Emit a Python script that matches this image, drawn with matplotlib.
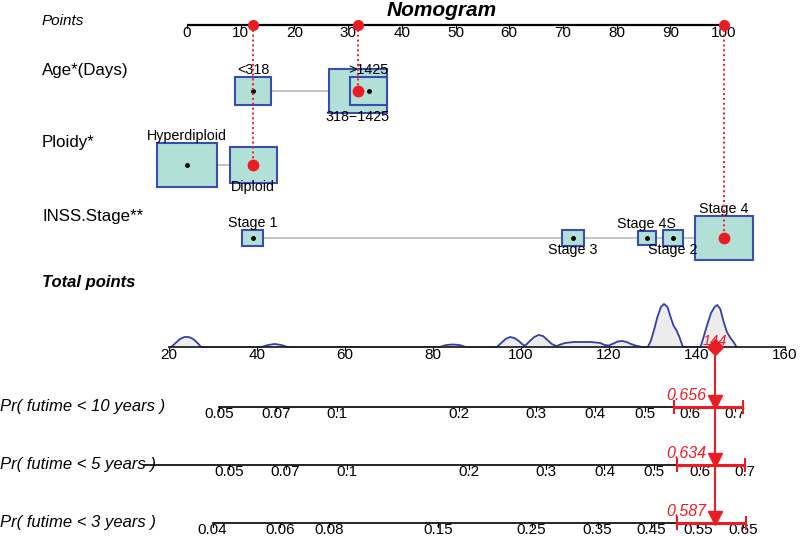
import numpy as np
import matplotlib
matplotlib.use('Agg')
import matplotlib.pyplot as plt
from matplotlib.patches import Rectangle

plt.rcParams['font.family'] = ['Liberation Sans', 'DejaVu Sans']

# ---- data ----
point_ticks = list(range(0, 101, 10))
total_ticks = list(range(20, 161, 20))

var_names = ['Age*(Days)', 'Ploidy*', 'INSS.Stage**']
age_levels = ['<318', '318\u22121425', '>1425']
age_points = [12.3, 31.8, 33.8]
age_share = [22, 55, 22.4]            # % of cohort (box size)
ploidy_levels = ['Hyperdiploid', 'Diploid']
ploidy_points = [0.0, 12.3]
ploidy_share = [57, 36]
stage_levels = ['Stage 1', 'Stage 3', 'Stage 4S', 'Stage 2', 'Stage 4']
stage_points = [12.2, 71.9, 85.6, 90.5, 100.0]
stage_share = [7.2, 7.9, 5.3, 6.5, 55]

# the patient shown in red: Age 318-1425, Diploid, Stage 4
patient_idx = [1, 1, 4]

# density of total points in the cohort (x = total points, h = height in px)
dens_x = [20.5, 21.5, 22.5, 23.5, 24.5, 25.5, 26.5, 27.3,
          41, 42.5, 44, 45.5, 47,
          81.5, 83, 84.5, 86, 87.5,
          94.5, 95.5, 96.5, 97.5, 98.5, 99.5, 100.5, 101, 102, 103, 104, 105, 106, 107, 108,
          109, 110, 112, 114, 116, 118, 119, 120, 121, 122, 123, 124, 125, 126, 127, 127.5,
          128.8, 129.5, 130.3, 131, 131.8, 132.5, 133.3, 134, 134.7, 135.3, 136, 136.8,
          140.8, 141.5, 142.3, 143.2, 144, 144.6, 145.3, 146, 146.8, 147.6, 148.3, 149]
dens_h = [0, 4, 8, 10, 10, 8, 4, 0,
          0, 2, 3, 2, 0,
          0, 2, 2.5, 2, 0,
          0, 4, 8, 10, 9, 6, 2, 1.5, 6, 10, 12, 11, 7, 3, 1,
          2.5, 4, 5, 5, 5, 4, 2, 1.5, 3.5, 5.5, 6, 5, 3, 1.5, 0.5, 0,
          0, 6, 18, 30, 40, 43, 40, 30, 21, 17, 10, 0,
          0, 10, 22, 34, 40, 42, 38, 26, 15, 9, 5, 0]

prob_labels = ['Pr( futime < 10 years )', 'Pr( futime < 5 years )', 'Pr( futime < 3 years )']
prob_ticks = [
    [0.05, 0.07, 0.1, 0.2, 0.3, 0.4, 0.5, 0.6, 0.7],
    [0.05, 0.07, 0.1, 0.2, 0.3, 0.4, 0.5, 0.6, 0.7],
    [0.04, 0.06, 0.08, 0.15, 0.25, 0.35, 0.45, 0.55, 0.65],
]
prob_line_start = [0.05, 0.03, 0.04]
patient_prob = [0.656, 0.634, 0.587]
prob_ci = [(0.564, 0.718), (0.549, 0.701), (0.504, 0.656)]
beta = 0.02693   # cloglog units per total point

# ---- colours ----
red = '#ec1c24'
box_face = '#b3e0d6'
box_edge = '#3a4cad'
dens_line = '#3040a6'

fig = plt.figure(figsize=(8, 5.36), dpi=100)

lay = fig.add_axes([0, 0, 1, 1])
lay.set_xlim(0, 800)
lay.set_ylim(536, 0)
lay.axis('off')

# points scale axes: 0 -> 187 px, 100 -> 724 px
px_pt = (724 - 187) / 100
ax = fig.add_axes([0, 0, 1, 1])
ax.set_xlim(-187 / px_pt, (800 - 187) / px_pt)
ax.set_ylim(536, 0)
ax.axis('off')
ax.patch.set_alpha(0)

# total points axes: 20 -> 169 px, 160 -> 785 px
px_tot = (785 - 169) / 140
bx = fig.add_axes([0, 0, 1, 1])
bx.set_xlim(20 - 169 / px_tot, 20 + (800 - 169) / px_tot)
bx.set_ylim(536, 0)
bx.axis('off')
bx.patch.set_alpha(0)

# titles / row names
lay.text(442, 10, 'Nomogram', fontsize=15, weight='bold', style='italic', ha='center', va='center')
lay.text(42, 21, 'Points', fontsize=11, style='italic', va='center')
row_y = [91, 165, 238]
name_y = [70, 142, 216]
for name, y in zip(var_names, name_y):
    lay.text(42, y, name, fontsize=12.2, va='center')
lay.text(42, 283, 'Total points', fontsize=12, weight='bold', style='italic', va='center')

# points axis
pts_y = 25
ax.plot([0, 100], [pts_y, pts_y], color='black', lw=1.6, solid_capstyle='butt')
for t in point_ticks:
    ax.plot([t, t], [pts_y, pts_y + 3], color='black', lw=0.8)
    ax.text(t, pts_y + 8, str(t), fontsize=11, ha='center', va='center')

# variable rows
levels = [age_levels, ploidy_levels, stage_levels]
points = [age_points, ploidy_points, stage_points]
shares = [age_share, ploidy_share, stage_share]
for row in range(3):
    y = row_y[row]
    pts = points[row]
    ax.plot([min(pts), max(pts)], [y, y], color='#bdbdbd', lw=1.3, zorder=1)
    order = np.argsort(pts)
    for i, lev in enumerate(levels[row]):
        w_px = 7.82 * np.sqrt(shares[row][i])
        h_px = 0.76 * w_px
        w = w_px / px_pt
        ax.add_patch(Rectangle((pts[i] - w / 2, y - h_px / 2), w, h_px, facecolor=box_face,
                               edgecolor=box_edge, lw=1.5, zorder=2))
        ax.plot(pts[i], y, 'o', color='black', ms=2.5, zorder=3)
        rank = list(order).index(i)
        if rank % 2 == 0:
            ax.text(pts[i], y - h_px / 2 - 7, lev, fontsize=10.3, ha='center', va='center', zorder=4)
        else:
            ax.text(pts[i], y + h_px / 2 + 4, lev, fontsize=10.3, ha='center', va='center', zorder=4)
    p = pts[patient_idx[row]]
    ax.plot([p, p], [pts_y, y], color=red, lw=1.4, ls=(0, (1, 1.5)), zorder=5)
    ax.plot(p, y, 'o', color=red, ms=7.5, zorder=6)
    ax.plot(p, pts_y, 'o', color=red, ms=7, zorder=6)

total = sum(points[r][patient_idx[r]] for r in range(3))

# total points axis + density
tot_y = 347
hx = np.array(dens_x)
hy = tot_y - np.array(dens_h)
bx.fill_between(hx, hy, tot_y, color='#ececec', lw=0, zorder=1)
bx.plot(hx, hy, color=dens_line, lw=1.3, zorder=2)
bx.plot([20, 160], [tot_y, tot_y], color='#222222', lw=1.3, zorder=3)
for t in total_ticks:
    bx.plot([t, t], [tot_y, tot_y + 3], color='black', lw=0.8)
    bx.text(t, tot_y + 8, str(t), fontsize=11, ha='center', va='center')


def cloglog(p):
    return np.log(-np.log(1 - np.asarray(p, dtype=float)))


prob_y = [407, 465, 523]
label_y = [406, 465, 522]
for r in range(3):
    y = prob_y[r]
    lay.text(0, label_y[r], prob_labels[r], fontsize=12, style='italic', va='center')
    ref = cloglog(patient_prob[r])

    def to_tp(p):
        return total + (cloglog(p) - ref) / beta

    ticks = prob_ticks[r]
    bx.plot([to_tp(prob_line_start[r]), to_tp(ticks[-1])], [y, y], color='black', lw=1.2, zorder=2)
    for t in ticks:
        xt = to_tp(t)
        bx.plot([xt, xt], [y, y + 4], color='black', lw=0.8, zorder=2)
        bx.text(xt, y + 7.5, f'{t:g}', fontsize=11, ha='center', va='center', zorder=2)
    lo, hi = to_tp(prob_ci[r][0]), to_tp(prob_ci[r][1])
    bx.plot([lo, hi], [y, y], color=red, lw=2.2, zorder=5, solid_capstyle='butt')
    for e in (lo, hi):
        bx.plot([e, e], [y - 6, y + 6], color=red, lw=1.5, zorder=5)
    bx.plot(total, y - 5, 'v', color=red, ms=10, zorder=6)
    bx.text(total - 2, y - 12, f'{patient_prob[r]:.3f}', fontsize=11.5, style='italic', color=red,
            ha='right', va='center', zorder=6)

# patient total
bx.plot([total, total], [tot_y, prob_y[-1] - 4], color=red, lw=1.5, zorder=5)
bx.plot(total, tot_y, 'D', color=red, ms=8, zorder=6)
bx.text(total, tot_y - 6, f'{round(total)}', fontsize=10.5, style='italic', color=red,
        ha='center', va='center', zorder=7)

fig.savefig('out.png', dpi=100)
